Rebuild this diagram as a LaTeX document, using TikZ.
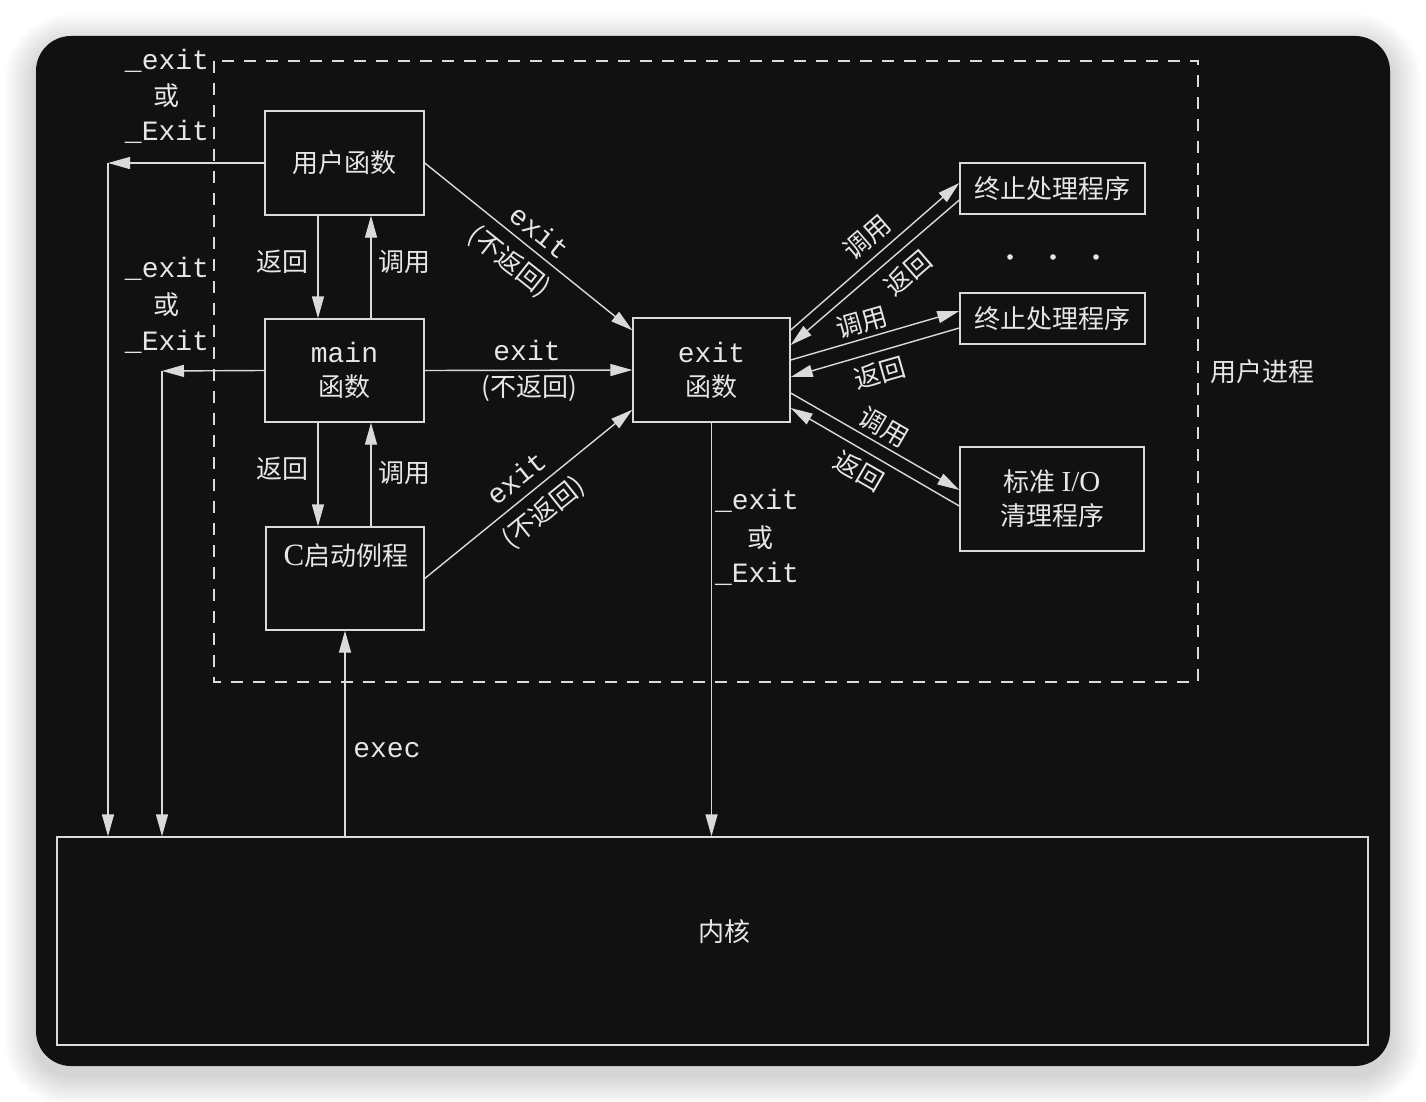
\documentclass[tikz,border=0pt]{standalone}
\usepackage{fontspec}
\setmainfont{Liberation Serif}
\newfontfamily\cjk{Noto Sans CJK SC}
\newfontfamily\mono{Liberation Mono}
\usetikzlibrary{arrows.meta}
\definecolor{bgc}{HTML}{111111}
\definecolor{linec}{HTML}{DADADA}
\definecolor{txtc}{HTML}{E6E6E6}
\newcommand{\mtxt}[1]{{\mono\fontsize{28}{34}\selectfont #1}}
\begin{document}
\begin{tikzpicture}[x=1pt,y=-1pt,
 ln/.style={draw=linec,line width=1.4pt},
 arr/.style={ln,-{Triangle[length=22pt,width=12pt,fill=linec]}},
 box/.style={ln,fill=bgc,inner sep=0pt,text=txtc,align=center,font=\cjk\fontsize{26}{34}\selectfont},
 cj/.style={text=txtc,inner sep=0pt,font=\cjk\fontsize{26}{34}\selectfont},
 mo/.style={text=txtc,inner sep=0pt,font=\mono\fontsize{28}{34}\selectfont},
]
\useasboundingbox (0,0) rectangle (1426,1102);
\fill[white] (0,0) rectangle (1426,1102);
\foreach \i in {1,...,14}{
  \pgfmathsetmacro\rr{35+\i*2.2}
  \fill[black,opacity=0.013,rounded corners=\rr pt] (36-\i*2.2,36-\i*2.2+9) rectangle (1390+\i*2.2,1066+\i*2.2+9);
}
\fill[bgc,rounded corners=35pt] (36,36) rectangle (1390,1066);

% user process dashed frame
\draw[ln,dash pattern=on 12pt off 10pt] (214,61) rectangle (1198,682);

% boxes
\node[box,minimum width=159pt,minimum height=104pt] (user) at (344.5,163) {用户函数};
\node[box,minimum width=159pt,minimum height=103pt] (main) at (344.5,370.5) {\mtxt{main}\\函数};
\node[box,minimum width=158pt,minimum height=103pt] (cs) at (345,578.5) {};
\node[cj] (cstxt) at (346,556) {{\rmfamily\fontsize{31}{34}\selectfont C}启动例程};
\node[box,minimum width=157pt,minimum height=104pt] (exitf) at (711.5,370) {\mtxt{exit}\\函数};
\node[box,minimum width=185pt,minimum height=51pt] (t1) at (1052.5,188.5) {终止处理程序};
\node[box,minimum width=185pt,minimum height=51pt] (t2) at (1052.5,318.5) {终止处理程序};
\node[box,minimum width=184pt,minimum height=104pt] (sio) at (1052,499) {标准 {\rmfamily\fontsize{29}{34}\selectfont I/O}\\清理程序};
\node[box,minimum width=1311pt,minimum height=208pt] (kern) at (712.5,941) {};
\node[cj] (ktxt) at (724,932) {内核};
\node[cj] (up) at (1262,372) {用户进程};

% dots
\foreach \x in {1010,1053,1096} \fill[txtc] (\x,257) circle (2.8);

% left exits
\coordinate (c1) at (108,163);
\draw[arr] (user.west) -- (c1);
\draw[arr] (c1) -- (c1 |- kern.north);
\coordinate (c2) at (162,371);
\draw[arr] (main.west) -- (c2);
\draw[arr] (c2) -- (c2 |- kern.north);

\node[mo,anchor=base] (la1) at (167,70) {\_exit};
\node[cj,anchor=base] (la2) at (166,106) {或};
\node[mo,anchor=base] (la3) at (167,141) {\_Exit};
\node[mo,anchor=base] (lb1) at (167,277) {\_exit};
\node[cj,anchor=base] (lb2) at (166,314) {或};
\node[mo,anchor=base] (lb3) at (167,350) {\_Exit};

% vertical call/return
\draw[arr] ([xshift=-26.5pt]user.south) -- ([xshift=-26.5pt]main.north);
\draw[arr] ([xshift=26.5pt]main.north) -- ([xshift=26.5pt]user.south);
\draw[arr] ([xshift=-26.5pt]main.south) -- ([xshift=-27pt]cs.north);
\draw[arr] ([xshift=26pt]cs.north) -- ([xshift=26.5pt]main.south);
\node[cj] (r1) at (282,262) {返回};
\node[cj] (k1) at (404,262) {调用};
\node[cj] (r2) at (282,469) {返回};
\node[cj] (k2) at (404,473) {调用};

% exec
\draw[arr] (cs.south |- kern.north) -- (cs.south);
\node[mo] (ex) at (387,750) {exec};

% exit function to kernel
\draw[arr] (exitf.south) -- (exitf.south |- kern.north);
\node[mo,anchor=base] (lc1) at (757,509) {\_exit};
\node[cj,anchor=base] (lc2) at (760,547) {或};
\node[mo,anchor=base] (lc3) at (757,582) {\_Exit};

% exit calls
\draw[arr] (user.east) -- ([yshift=-13pt]exitf.north west);
\node[mo,rotate=-38.6] (e1) at (540,232) {exit};
\node[cj,rotate=-38.6] (n1) at (509,262) {(不返回)};
\draw[arr] (main.east) -- (exitf.west);
\node[mo] (e2) at (527,350) {exit};
\node[cj] (n2) at (529,388) {(不返回)};
\draw[arr] (cs.east) -- ([yshift=13pt]exitf.south west);
\node[mo,rotate=38.8] (e3) at (516,478) {exit};
\node[cj,rotate=38.8] (n3) at (544,513) {(不返回)};

% exit handlers
\draw[arr] ([yshift=40pt]exitf.east) -- ([yshift=5.5pt]t1.west);
\draw[arr] ([yshift=-11.5pt]t1.west) -- ([yshift=25pt]exitf.east);
\draw[arr] ([yshift=10pt]exitf.east) -- ([yshift=7.5pt]t2.west);
\draw[arr] ([yshift=-9.5pt]t2.west) -- ([yshift=-7pt]exitf.east);
\draw[arr] ([yshift=-23pt]exitf.east) -- ([yshift=9pt]sio.west);
\draw[arr] ([yshift=-7pt]sio.west) -- ([yshift=-38pt]exitf.east);
\node[cj,rotate=41] (k3) at (867,237) {调用};
\node[cj,rotate=41] (r3) at (908,273) {返回};
\node[cj,rotate=16] (k4) at (862,322) {调用};
\node[cj,rotate=16] (r4) at (880,373) {返回};
\node[cj,rotate=-30] (k5) at (884,427) {调用};
\node[cj,rotate=-30] (r5) at (859,471) {返回};
\end{tikzpicture}
\end{document}
